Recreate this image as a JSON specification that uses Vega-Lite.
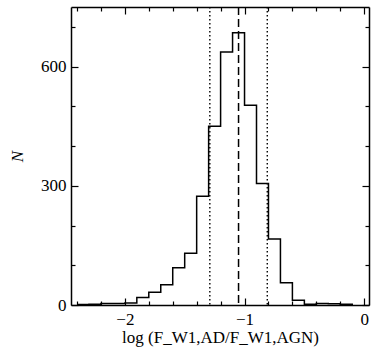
{
  "$schema": "https://vega.github.io/schema/vega-lite/v6.json",
  "width": 298,
  "height": 298,
  "autosize": {"type": "none"},
  "padding": {"left": 71, "top": 7, "right": 5, "bottom": 52},
  "background": "white",
  "config": {
    "view": {"stroke": null},
    "axis": {
      "grid": false,
      "domainColor": "black",
      "domainWidth": 1.5,
      "tickColor": "black",
      "tickWidth": 1.2,
      "labelFont": "Liberation Serif",
      "labelFontSize": 17,
      "labelColor": "black",
      "labelOverlap": false,
      "labelFlush": false,
      "titleFont": "Liberation Serif",
      "titleFontSize": 17,
      "titleFontWeight": "normal",
      "titleColor": "black"
    }
  },
  "datasets": {
    "hist": [
      {"bin_start": -2.4, "count": 1},
      {"bin_start": -2.3, "count": 2},
      {"bin_start": -2.2, "count": 4},
      {"bin_start": -2.1, "count": 4},
      {"bin_start": -2.0, "count": 5},
      {"bin_start": -1.9, "count": 19},
      {"bin_start": -1.8, "count": 32},
      {"bin_start": -1.7, "count": 51},
      {"bin_start": -1.6, "count": 94},
      {"bin_start": -1.5, "count": 130},
      {"bin_start": -1.4, "count": 274},
      {"bin_start": -1.3, "count": 450},
      {"bin_start": -1.2, "count": 637},
      {"bin_start": -1.1, "count": 685},
      {"bin_start": -1.0, "count": 503},
      {"bin_start": -0.9, "count": 306},
      {"bin_start": -0.8, "count": 166},
      {"bin_start": -0.7, "count": 56},
      {"bin_start": -0.6, "count": 12},
      {"bin_start": -0.5, "count": 2},
      {"bin_start": -0.4, "count": 4},
      {"bin_start": -0.3, "count": 3},
      {"bin_start": -0.2, "count": 2},
      {"bin_start": -0.1, "count": 0}
    ],
    "median": [{"x": -1.05}],
    "spread": [{"x": -1.29}, {"x": -0.81}]
  },
  "layer": [
    {
      "data": {"name": "hist"},
      "mark": {"type": "line", "interpolate": "step-after", "color": "black", "strokeWidth": 1.5},
      "encoding": {
        "x": {
          "field": "bin_start", "type": "quantitative",
          "scale": {"domain": [-2.45, 0.04], "nice": false, "zero": false},
          "axis": {
            "orient": "bottom",
            "title": "log (F_W1,AD/F_W1,AGN)",
            "values": [-2, -1, 0],
            "format": "d",
            "tickSize": -7,
            "labelPadding": 13,
            "titlePadding": 2
          }
        },
        "y": {
          "field": "count", "type": "quantitative",
          "scale": {"domain": [0, 750], "nice": false},
          "axis": {
            "orient": "left",
            "title": "N",
            "titleFontStyle": "italic",
            "values": [0, 300, 600],
            "format": "d",
            "tickSize": -7,
            "labelPadding": 12,
            "titlePadding": 14
          }
        }
      }
    },
    {
      "data": {"name": "median"},
      "mark": {"type": "rule", "color": "black", "strokeWidth": 1.5, "strokeDash": [8, 4]},
      "encoding": {"x": {"field": "x", "type": "quantitative", "axis": null}}
    },
    {
      "data": {"name": "spread"},
      "mark": {"type": "rule", "color": "black", "strokeWidth": 1.4, "strokeDash": [1.5, 2.5]},
      "encoding": {"x": {"field": "x", "type": "quantitative", "axis": null}}
    },
    {
      "data": {"name": "hist"},
      "mark": {"type": "line", "interpolate": "step-after", "strokeOpacity": 0},
      "encoding": {
        "x": {
          "field": "bin_start", "type": "quantitative",
          "axis": {
            "orient": "bottom", "title": null, "labels": false, "domain": false,
            "values": [-2.4, -2.2, -1.8, -1.6, -1.4, -1.2, -0.8, -0.6, -0.4, -0.2],
            "tickSize": -4
          }
        },
        "y": {
          "field": "count", "type": "quantitative",
          "axis": {
            "orient": "left", "title": null, "labels": false, "domain": false,
            "values": [100, 200, 400, 500, 700],
            "tickSize": -4
          }
        }
      }
    },
    {
      "data": {"name": "hist"},
      "mark": {"type": "line", "interpolate": "step-after", "strokeOpacity": 0},
      "encoding": {
        "x": {
          "field": "bin_start", "type": "quantitative",
          "axis": {
            "orient": "top", "title": null, "labels": false,
            "values": [-2, -1, 0],
            "tickSize": -7
          }
        },
        "y": {
          "field": "count", "type": "quantitative",
          "axis": {
            "orient": "right", "title": null, "labels": false,
            "values": [0, 300, 600],
            "tickSize": -7
          }
        }
      }
    },
    {
      "data": {"name": "hist"},
      "mark": {"type": "line", "interpolate": "step-after", "strokeOpacity": 0},
      "encoding": {
        "x": {
          "field": "bin_start", "type": "quantitative",
          "axis": {
            "orient": "top", "title": null, "labels": false, "domain": false,
            "values": [-2.4, -2.2, -1.8, -1.6, -1.4, -1.2, -0.8, -0.6, -0.4, -0.2],
            "tickSize": -4
          }
        },
        "y": {
          "field": "count", "type": "quantitative",
          "axis": {
            "orient": "right", "title": null, "labels": false, "domain": false,
            "values": [100, 200, 400, 500, 700],
            "tickSize": -4
          }
        }
      }
    }
  ]
}
